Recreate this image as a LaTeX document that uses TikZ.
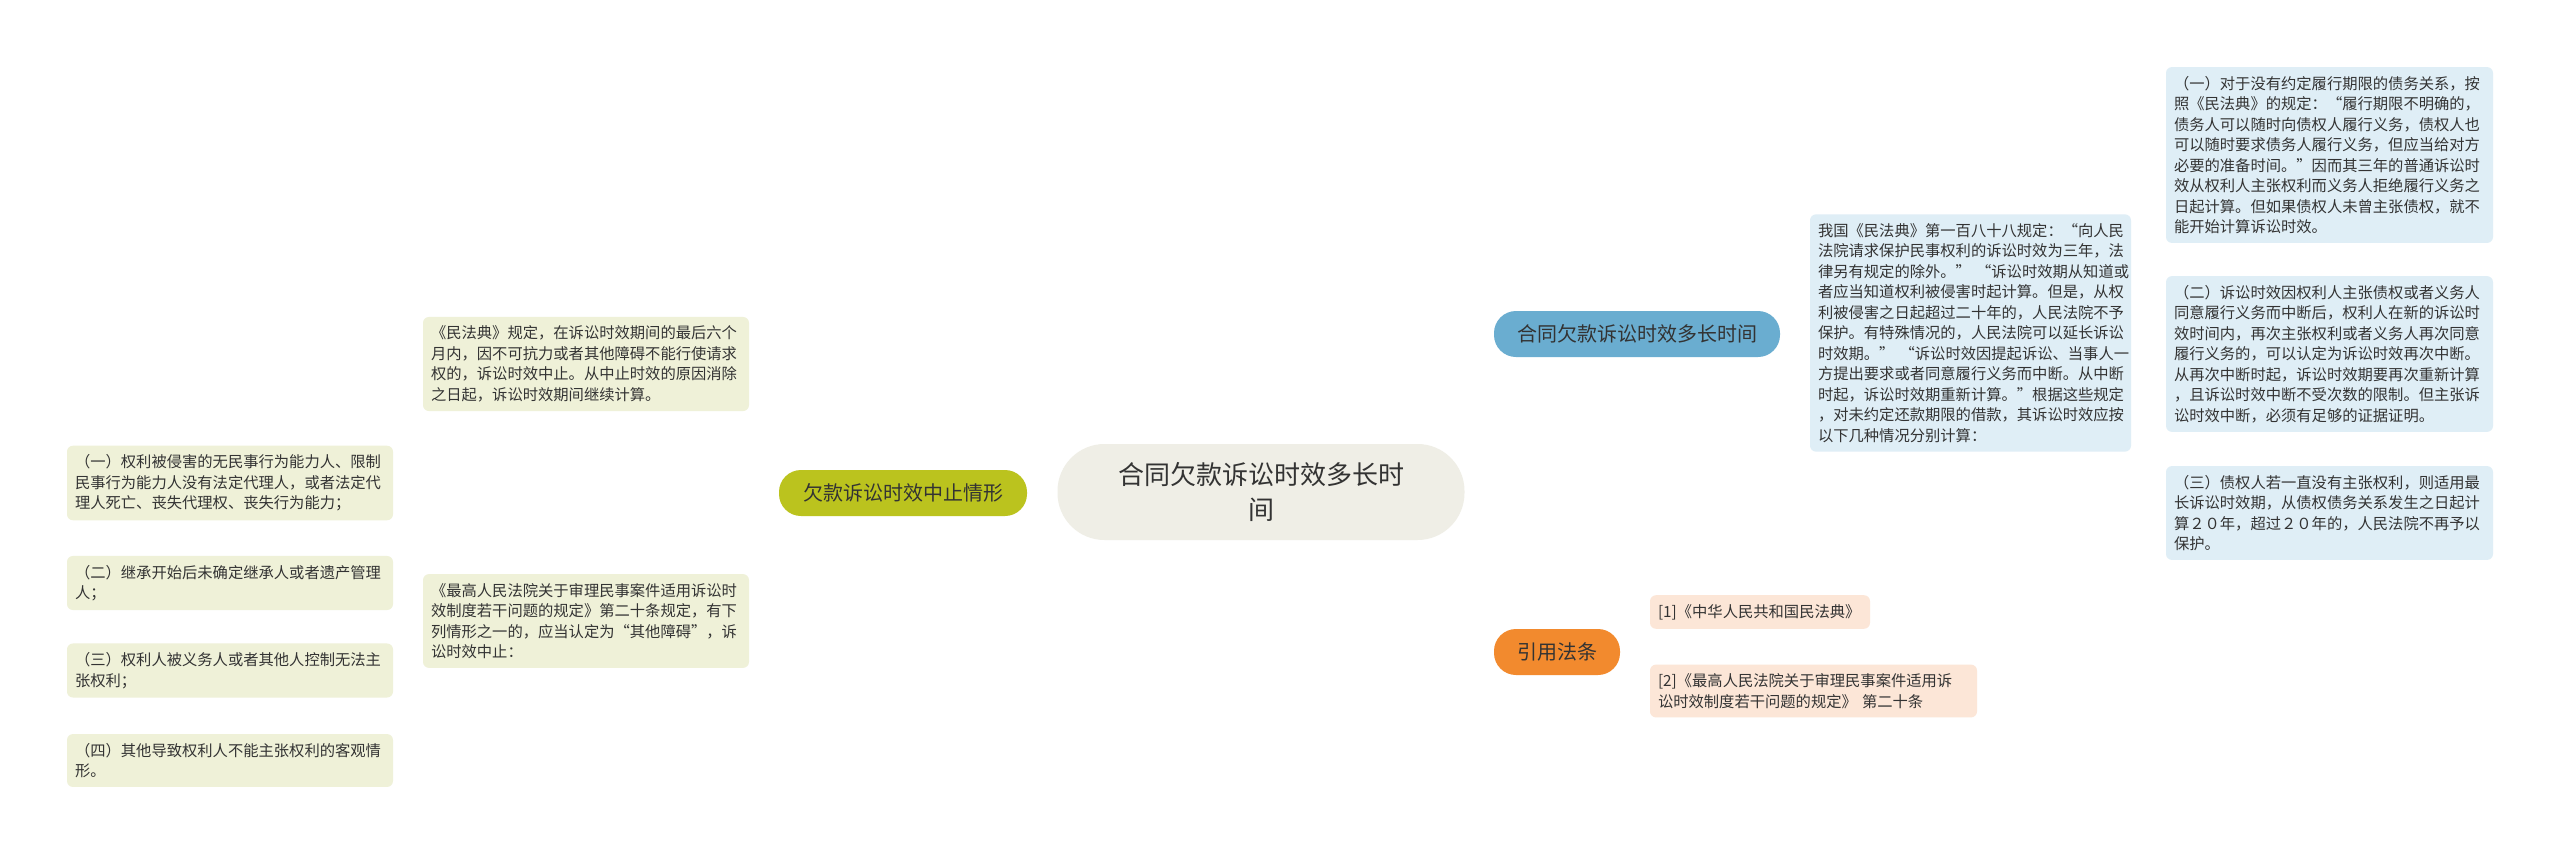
\documentclass[tikz,border=0pt]{standalone}
\usepackage{fontspec}
\setmainfont{Noto Sans CJK SC}
\usetikzlibrary{backgrounds}
\definecolor{croot}{HTML}{EFEEE6}
\definecolor{cblue}{HTML}{6AADD0}
\definecolor{cblueL}{HTML}{DFEEF6}
\definecolor{cgreen}{HTML}{BBC31E}
\definecolor{cgreenL}{HTML}{EFF1D8}
\definecolor{corange}{HTML}{F28A2E}
\definecolor{corangeL}{HTML}{FCE6D7}
\definecolor{ctext}{HTML}{333333}
\tikzset{
  every picture/.style={line width=2pt},
  root/.style={fill=croot, rounded corners=47pt, minimum width=407pt, minimum height=96pt, align=center, font=\fontsize{26}{35}\selectfont, text=ctext},
  topic/.style={fill=#1, rounded corners=22pt, minimum height=46pt, inner xsep=0pt, font=\fontsize{20}{24}\selectfont, text=ctext},
  leaf/.style={fill=#1, rounded corners=6pt, align=left, inner xsep=8pt, inner ysep=9pt, font=\fontsize{15.3}{20.5}\selectfont, text=ctext},
  link/.style={draw=#1, line width=2.4pt},
  fork/.style={draw=#1, line width=2pt, rounded corners=10pt},
}
\begin{document}
\begin{tikzpicture}[x=1pt, y=-1pt]
  \useasboundingbox (0,0) rectangle (2560,855);
  \fill[white] (0,0) rectangle (2560,855);
  % centre and main topics
  \node[root] (root) at (1261,492) {合同欠款诉讼时效多长时\\间};
  \node[topic=cblue, minimum width=286pt] (t1) at (1637,334) {合同欠款诉讼时效多长时间};
  \node[topic=corange, minimum width=126pt] (t2) at (1557,652) {引用法条};
  \node[topic=cgreen, minimum width=248pt] (t3) at (903,493) {欠款诉讼时效中止情形};
  % blue branch
  \node[leaf=cblueL, text width=305pt] (big) at (1970.5,333) {我国《民法典》第一百八十八规定：“向人民\\
    法院请求保护民事权利的诉讼时效为三年，法\\
    律另有规定的除外。”~“诉讼时效期从知道或\\
    者应当知道权利被侵害时起计算。但是，从权\\
    利被侵害之日起超过二十年的，人民法院不予\\
    保护。有特殊情况的，人民法院可以延长诉讼\\
    时效期。”~“诉讼时效因提起诉讼、当事人一\\
    方提出要求或者同意履行义务而中断。从中断\\
    时起，诉讼时效期重新计算。”根据这些规定\\
    ，对未约定还款期限的借款，其诉讼时效应按\\
    以下几种情况分别计算：};
  \node[leaf=cblueL, text width=311pt] (s1) at (2329.5,155) {（一）对于没有约定履行期限的债务关系，按\\
    照《民法典》的规定：“履行期限不明确的，\\
    债务人可以随时向债权人履行义务，债权人也\\
    可以随时要求债务人履行义务，但应当给对方\\
    必要的准备时间。”因而其三年的普通诉讼时\\
    效从权利人主张权利而义务人拒绝履行义务之\\
    日起计算。但如果债权人未曾主张债权，就不\\
    能开始计算诉讼时效。};
  \node[leaf=cblueL, text width=311pt] (s2) at (2329.5,354) {（二）诉讼时效因权利人主张债权或者义务人\\
    同意履行义务而中断后，权利人在新的诉讼时\\
    效时间内，再次主张权利或者义务人再次同意\\
    履行义务的，可以认定为诉讼时效再次中断。\\
    从再次中断时起，诉讼时效期要再次重新计算\\
    ，且诉讼时效中断不受次数的限制。但主张诉\\
    讼时效中断，必须有足够的证据证明。};
  \node[leaf=cblueL, text width=311pt] (s3) at (2329.5,513) {（三）债权人若一直没有主张权利，则适用最\\
    长诉讼时效期，从债权债务关系发生之日起计\\
    算２０年，超过２０年的，人民法院不再予以\\
    保护。};
  % orange branch
  \node[leaf=corangeL, text width=204pt] (r1) at (1760,612) {[1]《中华人民共和国民法典》};
  \node[leaf=corangeL, text width=311pt] (r2) at (1813.5,691) {[2]《最高人民法院关于审理民事案件适用诉\\
    讼时效制度若干问题的规定》~第二十条};
  % green branch
  \node[leaf=cgreenL, text width=310pt] (g1) at (586,364) {《民法典》规定，在诉讼时效期间的最后六个\\
    月内，因不可抗力或者其他障碍不能行使请求\\
    权的，诉讼时效中止。从中止时效的原因消除\\
    之日起，诉讼时效期间继续计算。};
  \node[leaf=cgreenL, text width=310pt] (g2) at (586,621) {《最高人民法院关于审理民事案件适用诉讼时\\
    效制度若干问题的规定》第二十条规定，有下\\
    列情形之一的，应当认定为“其他障碍”，诉\\
    讼时效中止：};
  \node[leaf=cgreenL, text width=310pt] (q1) at (230,483) {（一）权利被侵害的无民事行为能力人、限制\\
    民事行为能力人没有法定代理人，或者法定代\\
    理人死亡、丧失代理权、丧失行为能力；};
  \node[leaf=cgreenL, text width=310pt] (q2) at (230,583) {（二）继承开始后未确定继承人或者遗产管理\\
    人；};
  \node[leaf=cgreenL, text width=310pt] (q3) at (230,670.5) {（三）权利人被义务人或者其他人控制无法主\\
    张权利；};
  \node[leaf=cgreenL, text width=310pt] (q4) at (230,760.5) {（四）其他导致权利人不能主张权利的客观情\\
    形。};
  % connectors
  \begin{scope}[on background layer]
    \draw[link=cblue] ([xshift=6pt]root.north) .. controls +(15,-85) and +(-130,0) .. (t1.west);
    \draw[link=corange] ([xshift=6pt]root.south) .. controls +(15,85) and +(-130,0) .. (t2.west);
    \draw[link=cgreen] (t3.east) -- (root.west);
    \draw[link=cblue] (t1.east) -- (big.west);
    \foreach \s in {s1,s2,s3}
      \draw[fork=cblue] (big.east) -- ++(22,0) |- (\s.west);
    \foreach \r in {r1,r2}
      \draw[fork=corange] (t2.east) -- ++(15,0) |- (\r.west);
    \foreach \g in {g1,g2}
      \draw[fork=cgreen] (t3.west) -- ++(-15,0) |- (\g.east);
    \foreach \q in {q1,q2,q3,q4}
      \draw[fork=cgreen] (g2.west) -- ++(-15,0) |- (\q.east);
  \end{scope}
\end{tikzpicture}
\end{document}
